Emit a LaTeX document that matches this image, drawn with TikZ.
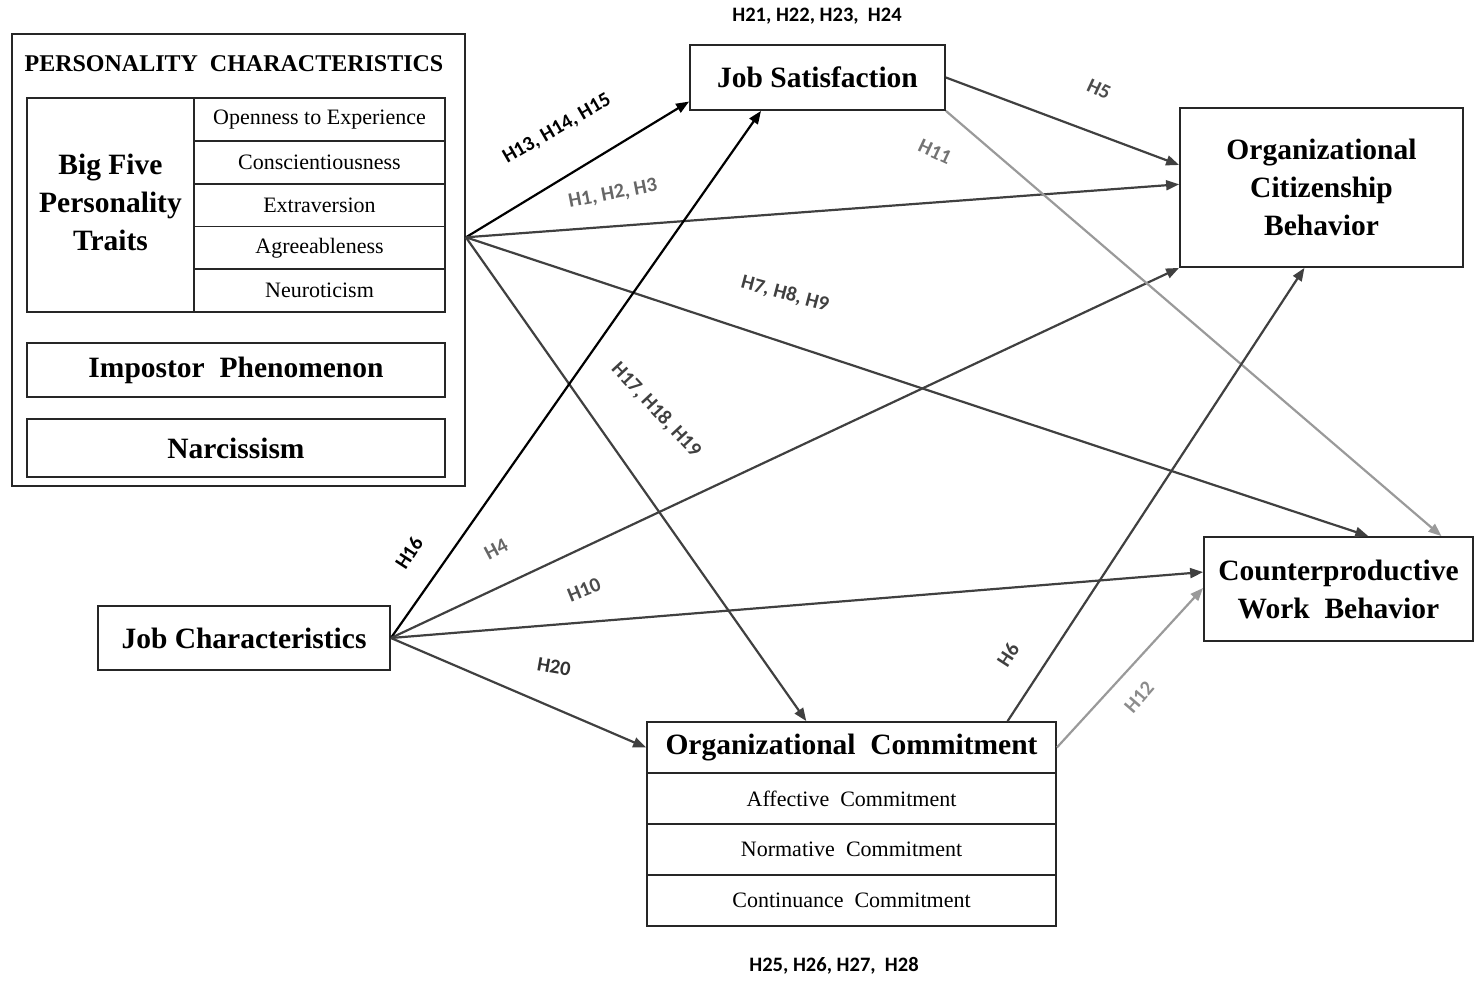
\documentclass[tikz,border=0pt]{standalone}
\usepackage{fontspec}
\setmainfont{Liberation Serif}
\newfontfamily\hfont{Carlito}
\usetikzlibrary{arrows.meta,calc}

\definecolor{cdark}{HTML}{404040}
\definecolor{clight}{HTML}{9A9A9A}

\begin{document}
\begin{tikzpicture}[x=1pt,y=-1pt,
  box/.style={draw=black!85,line width=1.8pt,rectangle,inner sep=0pt,align=center},
  big/.style={font=\bfseries\fontsize{29.5}{38}\selectfont},
  small/.style={font=\fontsize{22}{26}\selectfont},
  hlab/.style={font=\hfont\bfseries\fontsize{20.5}{24}\selectfont,inner sep=1pt},
  arr/.style={-{Triangle[length=13pt,width=10pt]},line width=2.2pt},
]
\useasboundingbox (0,0) rectangle (1475,980);

% personality block
\node[box,minimum width=453pt,minimum height=452pt] (pc) at (238.5,260) {};
\node[font=\bfseries\fontsize{24}{28}\selectfont] (pct) at (234,64) {PERSONALITY~~CHARACTERISTICS};
\node[box,minimum width=167pt,minimum height=214pt] (bf) at (110.5,205) {};
\node[big,align=center,inner sep=0pt] (bft) at (110.5,202) {Big Five\\Personality\\Traits};
\node[box,small,minimum width=251pt,minimum height=42.8pt] (r1) at (319.5,119.4) {Openness to Experience};
\node[box,small,minimum width=251pt,minimum height=42.8pt] (r2) at (319.5,162.2) {Conscientiousness};
\node[box,small,minimum width=251pt,minimum height=42.8pt] (r3) at (319.5,205) {Extraversion};
\node[box,small,minimum width=251pt,minimum height=42.8pt] (r4) at (319.5,247.8) {Agreeableness};
\node[box,small,minimum width=251pt,minimum height=42.8pt] (r5) at (319.5,290.6) {Neuroticism};
\node[box,big,minimum width=418pt,minimum height=54pt] (ip) at (236,370) {Impostor~~Phenomenon};
\node[box,big,minimum width=418pt,minimum height=58pt] (nar) at (236,448) {Narcissism};

% outcome and mediator boxes
\node[box,big,minimum width=255pt,minimum height=65pt] (js) at (817.5,77.5) {Job Satisfaction};
\node[box,big,minimum width=283pt,minimum height=159pt] (ocb) at (1321.5,187.5) {Organizational\\Citizenship\\Behavior};
\node[box,big,minimum width=269pt,minimum height=104pt] (cwb) at (1338.5,589) {Counterproductive\\Work~~Behavior};
\node[box,big,minimum width=292pt,minimum height=64pt] (jc) at (244,638) {Job Characteristics};
\node[box,big,minimum width=409pt,minimum height=51pt] (och) at (851.5,747.5) {Organizational~~Commitment};
\node[box,small,minimum width=409pt,minimum height=51pt] (oca) at (851.5,798.5) {Affective~~Commitment};
\node[box,small,minimum width=409pt,minimum height=51pt] (ocn) at (851.5,849.5) {Normative~~Commitment};
\node[box,small,minimum width=409pt,minimum height=51pt] (occ) at (851.5,900.5) {Continuance~~Commitment};

% anchor points on the box edges
\coordinate (ps) at ($(pc.north east)!0.45!(pc.south east)$);
\coordinate (jsb) at ($(js.south west)!0.28!(js.south east)$);
\coordinate (ocb1) at ($(ocb.north west)!0.36!(ocb.south west)$);
\coordinate (ocb2) at ($(ocb.north west)!0.48!(ocb.south west)$);
\coordinate (ocb3) at ($(ocb.south west)!0.44!(ocb.south east)$);
\coordinate (cwb1) at ($(cwb.north west)!0.61!(cwb.north east)$);
\coordinate (cwb2) at ($(cwb.north west)!0.88!(cwb.north east)$);
\coordinate (cwb3) at ($(cwb.north west)!0.34!(cwb.south west)$);
\coordinate (cwb4) at ($(cwb.north west)!0.49!(cwb.south west)$);
\coordinate (oct1) at ($(och.north west)!0.39!(och.north east)$);
\coordinate (oct2) at ($(och.north west)!0.88!(och.north east)$);

% paths from personality characteristics
\draw[arr,black] (ps) -- ($(js.north west)!0.86!(js.south west)$);
\draw[arr,cdark] (ps) -- (ocb2);
\draw[arr,cdark] (ps) -- (cwb1);
\draw[arr,cdark] (ps) -- (oct1);

% paths from job characteristics
\draw[arr,black] (jc.east) -- (jsb);
\draw[arr,cdark] (jc.east) -- (ocb.south west);
\draw[arr,cdark] (jc.east) -- (cwb3);
\draw[arr,cdark] (jc.east) -- (och.west);

% paths from the mediators
\draw[arr,cdark] (js.east) -- (ocb1);
\draw[arr,clight] (js.south east) -- (cwb2);
\draw[arr,cdark] (oct2) -- (ocb3);
\draw[arr,clight] (och.east) -- (cwb4);

% hypothesis labels
\node[hlab,black] (l21) at (817,16) {H21, H22, H23,~~H24};
\node[hlab,black] (l25) at (834,966) {H25, H26, H27,~~H28};
\node[hlab,black,rotate=30] (l13) at (557,129) {H13, H14, H15};
\node[hlab,black!60,rotate=11] (l1) at (613,194) {H1, H2, H3};
\node[hlab,black!70,rotate=-25] (l5) at (1099,89) {H5};
\node[hlab,black!55,rotate=-25] (l11) at (935,152) {H11};
\node[hlab,cdark,rotate=-15] (l7) at (785,294) {H7, H8, H9};
\node[hlab,cdark,rotate=-47] (l17) at (656,410) {H17, H18, H19};
\node[hlab,black,rotate=57] (l16) at (409,553) {H16};
\node[hlab,black!60,rotate=28] (l4) at (496,549) {H4};
\node[hlab,black!70,rotate=22] (l10) at (584,590) {H10};
\node[hlab,black!80,rotate=-10] (l20) at (554,667) {H20};
\node[hlab,cdark,rotate=57] (l6) at (1008,655) {H6};
\node[hlab,black!45,rotate=49] (l12) at (1139,697) {H12};
\end{tikzpicture}
\end{document}
